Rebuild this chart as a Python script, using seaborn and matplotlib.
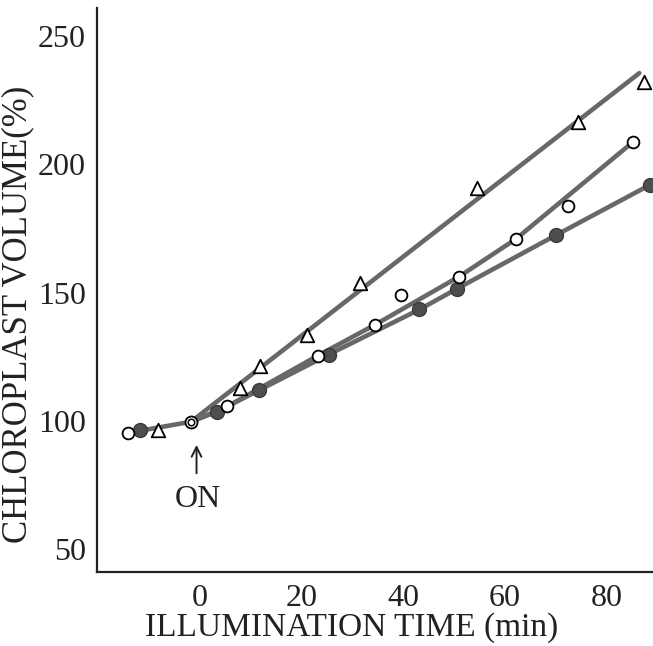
import matplotlib
matplotlib.use("Agg")
import matplotlib.pyplot as plt
import seaborn as sns
import pandas as pd

# ---- data ----
open_x = [-14.1, 5.4, 23.2, 34.5, 39.6, 51.0, 62.2, 72.5, 85.3]
open_y = [95.3, 105.6, 125.4, 137.5, 149.1, 156.2, 170.9, 183.9, 208.8]

filled_x = [-11.9, 3.3, 11.7, 25.3, 43.2, 50.6, 70.1, 88.6]
filled_y = [96.4, 103.5, 112.0, 125.8, 143.4, 151.5, 172.4, 192.0]

tri_x = [-8.2, 7.9, 11.8, 21.0, 31.5, 54.5, 74.5, 87.4]
tri_y = [96.4, 112.7, 121.5, 133.6, 153.9, 190.7, 216.6, 232.3]

on_x = [-1.8]          # common point at light-on (double circle)
on_y = [99.6]

# fitted lines drawn through the data
pre_line_x = [-14.1, -1.8]
pre_line_y = [95.3, 99.6]
tri_line_x = [-1.8, 86.5]
tri_line_y = [99.6, 235.6]
open_line_x = [-1.8, 5.4, 23.2, 34.5, 51.0, 62.2, 85.3]
open_line_y = [99.6, 105.6, 125.4, 137.5, 156.2, 170.9, 208.8]
filled_line_x = [-1.8, 3.3, 11.7, 25.3, 43.2, 50.6, 70.1, 88.6]
filled_line_y = [99.6, 103.5, 112.0, 125.8, 143.4, 151.5, 172.4, 192.0]

x_ticks = [0, 20, 40, 60, 80]
y_ticks = [50, 100, 150, 200, 250]

sns.set_style("white")
plt.rcParams["font.family"] = ["Liberation Serif", "DejaVu Serif"]

fig = plt.figure(figsize=(6.53, 6.46), dpi=100)
ax = fig.add_axes([97 / 653, 1 - 572 / 646, 1 - 97 / 653, (572 - 8) / 646])

line_kw = dict(color="#686868", linewidth=3.3, sort=False, estimator=None, ax=ax, legend=False)
for lx, ly in [(pre_line_x, pre_line_y), (tri_line_x, tri_line_y),
               (open_line_x, open_line_y), (filled_line_x, filled_line_y)]:
    sns.lineplot(data=pd.DataFrame({"x": lx, "y": ly}), x="x", y="y", **line_kw)

sns.scatterplot(x=filled_x, y=filled_y, marker="o", s=100, color="#4e4e4e",
                edgecolor="#3a3a3a", linewidth=1.0, ax=ax, zorder=5)
sns.scatterplot(x=open_x, y=open_y, marker="o", s=72, color="white",
                edgecolor="black", linewidth=1.3, ax=ax, zorder=6)
sns.scatterplot(x=tri_x, y=tri_y, marker="^", s=95, color="white",
                edgecolor="black", linewidth=1.3, ax=ax, zorder=6)
sns.scatterplot(x=on_x, y=on_y, marker="o", s=75, color="white",
                edgecolor="black", linewidth=1.3, ax=ax, zorder=7)
sns.scatterplot(x=on_x, y=on_y, marker="o", s=22, color="white",
                edgecolor="black", linewidth=1.1, ax=ax, zorder=8)

# "ON" arrow
ax.annotate("", xy=(-0.7, 90.6), xytext=(-0.7, 79.5),
            arrowprops=dict(arrowstyle="->,head_length=0.7,head_width=0.35",
                            color="#222222", lw=1.4, shrinkA=0, shrinkB=0))
ax.text(-0.4, 69.1, "ON", ha="center", va="center", fontsize=23, color="#222222")

ax.set_xlim(-20.3, 89.2)
ax.set_ylim(41, 261)
ax.set_xticks(x_ticks)
ax.set_yticks(y_ticks)
ax.tick_params(direction="in", length=5, width=1.0, labelsize=23,
               colors="#222222", pad=8)
ax.tick_params(axis="x", pad=9)

for side in ["top", "right"]:
    ax.spines[side].set_visible(False)
for side in ["left", "bottom"]:
    ax.spines[side].set_color("#222222")
    ax.spines[side].set_linewidth(1.6)

ax.set_xlabel("ILLUMINATION TIME (min)", fontsize=24, color="#222222")
ax.set_ylabel("CHLOROPLAST VOLUME(%)", fontsize=25, color="#222222")
ax.xaxis.set_label_coords(0.458, -0.072)
ax.yaxis.set_label_coords(-0.112, 0.456)

fig.savefig("out.png", dpi=100)
